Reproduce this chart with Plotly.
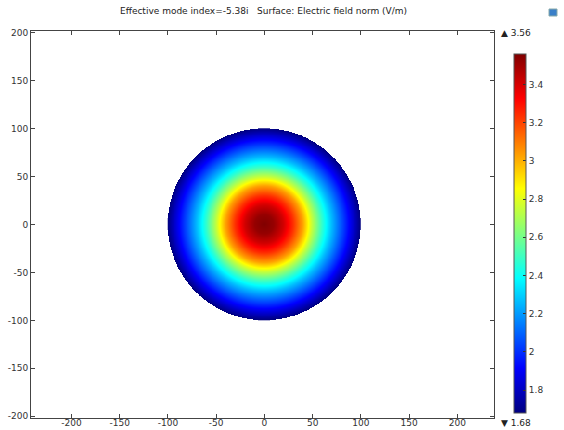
import numpy as np
import plotly.graph_objects as go

# Radial profile of the electric field norm (V/m)
radius_um = [0, 10, 20, 30, 40, 50, 60, 70, 80, 90, 100]
field_norm = [3.56, 3.52, 3.41, 3.24, 3.03, 2.74, 2.48, 2.26, 2.07, 1.88, 1.68]

field_min = 1.68
field_max = 3.56
cb_ticks = [1.8, 2.0, 2.2, 2.4, 2.6, 2.8, 3.0, 3.2, 3.4]
cb_ticktext = ["1.8", "2", "2.2", "2.4", "2.6", "2.8", "3", "3.2", "3.4"]
axis_ticks = [-200, -150, -100, -50, 0, 50, 100, 150, 200]
axis_ticktext = ["-200", "-150", "-100", "-50", "0", "50", "100", "150", "200"]
title_text = "Effective mode index=-5.38i   Surface: Electric field norm (V/m)"

# Build the disk surface from the radial profile
gx = np.arange(-100, 100.01, 0.5)
gy = np.arange(-100, 100.01, 0.5)
XX, YY = np.meshgrid(gx, gy)
RR = np.sqrt(XX**2 + YY**2)
Z = np.interp(RR, radius_um, field_norm)
Z = np.where(RR <= 100.2, Z, np.nan)

jet = [
    [0.0, "rgb(0,0,128)"],
    [0.125, "rgb(0,0,255)"],
    [0.375, "rgb(0,255,255)"],
    [0.625, "rgb(255,255,0)"],
    [0.875, "rgb(255,0,0)"],
    [1.0, "rgb(128,0,0)"],
]

W, H = 564, 430
# frame in page pixels
FX0, FX1, FY0, FY1 = 31, 494, 31, 418
L, T = FX0, FY0
R, B = W - FX1, H - FY1
plot_w = FX1 - FX0
plot_h = FY1 - FY0


def px(xp):
    return (xp - FX0) / plot_w


def py(yp):
    return (FY1 - yp) / plot_h


fig = go.Figure()
fig.add_trace(go.Heatmap(
    x=gx, y=gy, z=Z,
    colorscale=jet, zmin=field_min, zmax=field_max,
    hoverongaps=False,
    colorbar=dict(
        thickness=12,
        lenmode="pixels", len=359,
        yanchor="top", y=py(54),
        xanchor="left", x=px(514), xpad=0, ypad=0,
        tickvals=cb_ticks, ticktext=cb_ticktext,
        ticks="inside", ticklen=3, tickcolor="#333",
        tickfont=dict(family="DejaVu Sans", size=9, color="#333"),
        outlinewidth=1, outlinecolor="#555",
    ),
))

axis_common = dict(
    showgrid=False, zeroline=False, automargin=False,
    showline=True, linecolor="#444", linewidth=1, mirror="allticks",
    ticks="inside", ticklen=4, tickcolor="#444",
    tickvals=axis_ticks, ticktext=axis_ticktext,
    tickfont=dict(family="DejaVu Sans", size=9, color="#333"),
)

fig.update_layout(
    width=W, height=H,
    margin=dict(l=L, r=R, t=T, b=B, autoexpand=False),
    paper_bgcolor="white", plot_bgcolor="white",
    xaxis=dict(range=[-242, 238], ticklabelstandoff=-4, **axis_common),
    yaxis=dict(range=[-201.8, 201.7], **axis_common),
    showlegend=False,
    annotations=[
        dict(text=title_text, xref="paper", yref="paper",
             x=px(263), y=py(11),
             xanchor="center", yanchor="middle", showarrow=False,
             font=dict(family="DejaVu Sans", size=9, color="#222")),
        dict(text="▲ 3.56", xref="paper", yref="paper",
             x=px(499), y=py(33),
             xanchor="left", yanchor="middle", showarrow=False,
             font=dict(family="DejaVu Sans", size=9, color="#222")),
        dict(text="▼ 1.68", xref="paper", yref="paper",
             x=px(499), y=py(423),
             xanchor="left", yanchor="middle", showarrow=False,
             font=dict(family="DejaVu Sans", size=9, color="#222")),
    ],
    shapes=[
        dict(type="rect", xref="paper", yref="paper",
             x0=px(549), x1=px(557), y0=py(16), y1=py(9),
             fillcolor="#3a7fc8", line=dict(color="#8aa", width=1)),
    ],
)

fig.write_html("out.html", config={"displayModeBar": False},
               post_script="document.body.style.margin='0';")
